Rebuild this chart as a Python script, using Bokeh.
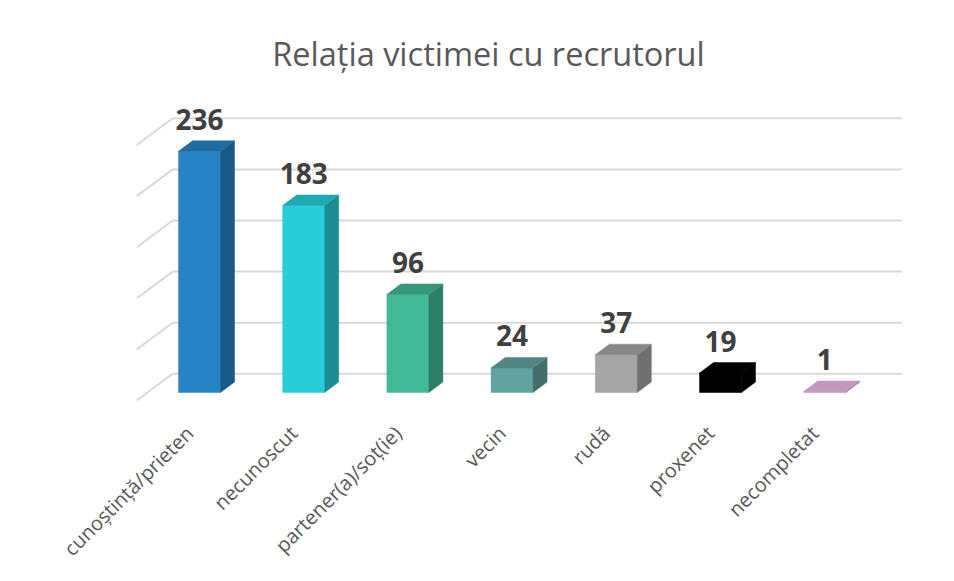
from math import pi

from bokeh.plotting import figure
from bokeh.models import Range1d
from bokeh.embed import file_html
from bokeh.resources import INLINE
from bokeh.core.properties import value

# ---------------- data ----------------
title_text = "Relația victimei cu recrutorul"
categories = ["cunoștință/prieten", "necunoscut", "partener(a)/soț(ie)",
              "vecin", "rudă", "proxenet", "necompletat"]
counts = [236, 183, 96, 24, 37, 19, 1]
grid_values = [0, 50, 100, 150, 200, 250]
bar_colors = ["#2683C6", "#27CED7", "#42BA97", "#62A39F", "#A6A6A6", "#000000", "#C497BF"]

# ---------------- layout (pixels) ----------------
W, H = 938, 565
TOP = 80                 # space reserved for the title
LEFT = 38                # left border so that the title centres at x = 488
PX_X = 104.2             # pixels per category
PX_Y = 1.022             # pixels per unit of value
FIRST_CENTER = 199       # px from figure left to first category
BASE_Y = 392 - TOP       # px from frame top to value 0 (bar front plane)

x0 = (LEFT - FIRST_CENTER) / PX_X
x1 = x0 + (W - LEFT) / PX_X
y1 = BASE_Y / PX_Y
y0 = y1 - (H - TOP) / PX_Y

# 3-D offsets converted to data units
bdx, bdy = 14 / PX_X, 10.5 / PX_Y       # bar depth
wbx, wby = 25.3 / PX_X, 18.7 / PX_Y     # back wall
ffx, ffy = -10.7 / PX_X, -8.0 / PX_Y    # front edge of floor
hw = 21 / PX_X                           # half bar width
label_gap = 21.5 / PX_Y


def shade(c, f):
    c = c.lstrip("#")
    r, g, b = (int(c[i:i + 2], 16) for i in (0, 2, 4))
    return "#%02x%02x%02x" % (int(r * f), int(g * f), int(b * f))


p = figure(width=W, height=H, output_backend="svg", toolbar_location=None,
           x_range=Range1d(x0, x1), y_range=Range1d(y0, y1),
           x_axis_location=None, y_axis_location=None,
           min_border_left=LEFT, min_border_right=0, min_border_bottom=0,
           min_border_top=TOP, tools="")
p.grid.visible = False
p.outline_line_color = None
p.background_fill_color = "white"
p.border_fill_color = "white"

p.title.text = title_text
p.title.align = "center"
p.title.text_font = "Open Sans"
p.title.text_font_size = "32.5px"
p.title.text_font_style = "normal"
p.title.text_color = "#595959"

n = len(categories)
left_edge, right_edge = -0.5, n - 0.5

# gridlines: back wall horizontals and left wall diagonals
hx, hy, dxs, dys = [], [], [], []
for g in grid_values:
    hx.append([left_edge + wbx, right_edge + wbx])
    hy.append([g + wby, g + wby])
    dxs.append([left_edge + ffx, left_edge + wbx])
    dys.append([g + ffy, g + wby])
p.multi_line(hx, hy, line_color="#D9D9D9", line_width=2)
p.multi_line(dxs, dys, line_color="#D9D9D9", line_width=2)

# 3-D bars
xs, ys, cols = [], [], []
for i, (v, c) in enumerate(zip(counts, bar_colors)):
    # front
    xs.append([i - hw, i + hw, i + hw, i - hw])
    ys.append([0, 0, v, v])
    cols.append(c)
    # side
    xs.append([i + hw, i + hw + bdx, i + hw + bdx, i + hw])
    ys.append([0, bdy, v + bdy, v])
    cols.append(shade(c, 0.68))
    # top
    xs.append([i - hw, i + hw, i + hw + bdx, i - hw + bdx])
    ys.append([v, v, v + bdy, v + bdy])
    cols.append(shade(c, 0.82) if v > 1 else c)
p.patches(xs, ys, fill_color=cols, line_color=cols, line_width=0.5)

# value labels
p.text(x=list(range(n)), y=[v + bdy + label_gap for v in counts],
       text=[str(v) for v in counts], text_align="center", text_baseline="alphabetic",
       text_font=value("Open Sans"), text_font_style="bold", text_font_size="28px",
       text_color="#404040")

# category labels (rotated 45 degrees)
p.text(x=[i - 10 / PX_X for i in range(n)], y=[-37 / PX_Y] * n, text=categories,
       angle=pi / 4, text_align="right", text_baseline="middle",
       text_font=value("Open Sans"), text_font_size="20px", text_color="#595959")

open("out.html", "w").write(file_html(p, INLINE))
